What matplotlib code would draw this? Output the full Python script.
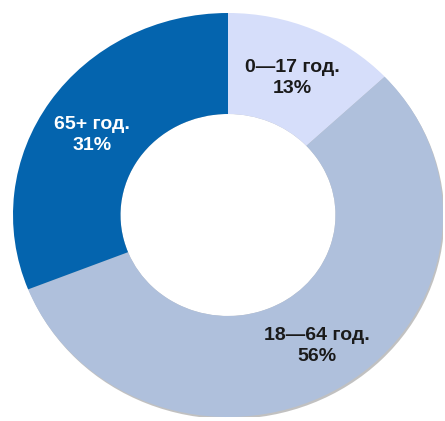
import matplotlib.pyplot as plt
from matplotlib.patches import Ellipse

groups = ["0—17 год.", "18—64 год.", "65+ год."]
shares = [13, 56, 31]
colors = ["#d6defa", "#afc0dc", "#0464ae"]
text_colors = ["#1a1a1a", "#1a1a1a", "white"]
label_pos = [(0.298, 0.678), (0.414, -0.649), (-0.633, 0.396)]

plt.rcParams['font.family'] = ['Liberation Sans', 'DejaVu Sans']

fig = plt.figure(figsize=(4.45, 4.21), dpi=100)
ax = fig.add_axes([13 / 445, 4 / 421, 430 / 445, 404 / 421])

ring = 0.5
# faint drop shadow under the ring
ax.add_patch(Ellipse((0.006, -0.01), 2, 2, color='#777777', alpha=0.45, lw=0, zorder=0))
ax.add_patch(Ellipse((0, 0), 2 * (1 - ring), 2 * (1 - ring), color='white', lw=0, zorder=0.5))

wedges, _ = ax.pie(shares, colors=colors, startangle=90, counterclock=False,
                   radius=1, wedgeprops=dict(width=ring, edgecolor='none'))
for w in wedges:
    w.set_zorder(1)
ax.set_aspect('auto')
ax.set_xlim(-1, 1)
ax.set_ylim(-1, 1)
ax.axis('off')

for g, s, (x, y), c in zip(groups, shares, label_pos, text_colors):
    ax.text(x, y, f"{g}\n{s}%", ha='center', va='center', fontsize=14,
            fontweight='bold', color=c, linespacing=1.32, zorder=3)

fig.savefig("out.png", dpi=100)
